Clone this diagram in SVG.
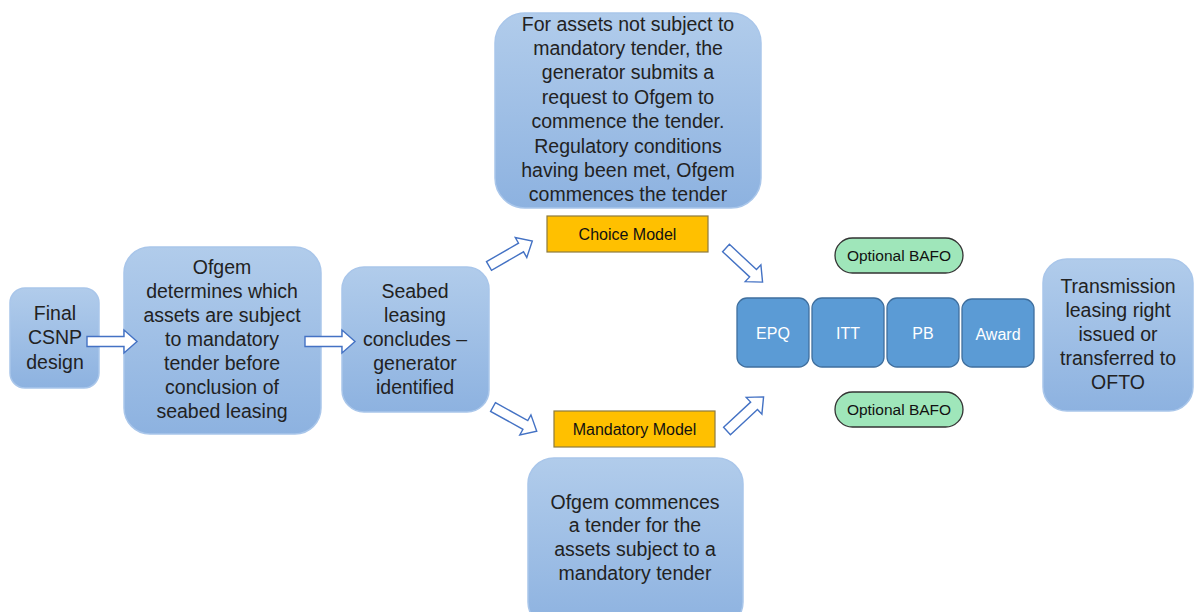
<svg xmlns="http://www.w3.org/2000/svg" width="1194" height="612" viewBox="0 0 1194 612">
<defs>
<linearGradient id="lb" x1="0" y1="0" x2="0" y2="1">
<stop offset="0" stop-color="#B1CCEB"/>
<stop offset="1" stop-color="#8DB2E0"/>
</linearGradient>
<path id="barrow" d="M0,-5 L37,-5 L37,-11.5 L50,0 L37,11.5 L37,5 L0,5 Z"/>
</defs>
<style>
.lb{fill:url(#lb);stroke:#A9C6EA;stroke-width:1.5}
.t{font-family:"Liberation Sans",Arial,sans-serif;font-size:19.5px;fill:#222;text-anchor:middle}
.ts{font-family:"Liberation Sans",Arial,sans-serif;font-size:16px;fill:#111;text-anchor:middle}
.tg{font-family:"Liberation Sans",Arial,sans-serif;font-size:15.5px;fill:#111;text-anchor:middle}
.tw{font-family:"Liberation Sans",Arial,sans-serif;font-size:16px;fill:#fff;text-anchor:middle}
.y{fill:#FFC000;stroke:#8C7A3E;stroke-width:1.2}
.g{fill:#9FE6BA;stroke:#333;stroke-width:1.3}
.b{fill:#5B9BD5;stroke:#3F6F9E;stroke-width:1.3}
.ar{fill:#fff;stroke:#4472C4;stroke-width:1.4}
</style>
<rect width="1194" height="612" fill="#fff"/>
<g id="final">
<rect class="lb" x="10" y="288" width="89" height="100" rx="15"/>
<text class="t"><tspan x="55" y="320">Final</tspan><tspan x="55" y="344">CSNP</tspan><tspan x="55" y="369">design</tspan></text>
</g>
<g id="ofgem">
<rect class="lb" x="124" y="247" width="197" height="187" rx="26"/>
<text class="t"><tspan x="222" y="274">Ofgem</tspan><tspan x="222" y="298">determines which</tspan><tspan x="222" y="322">assets are subject</tspan><tspan x="222" y="346">to mandatory</tspan><tspan x="222" y="370">tender before</tspan><tspan x="222" y="394">conclusion of</tspan><tspan x="222" y="418">seabed leasing</tspan></text>
</g>
<g id="seabed">
<rect class="lb" x="342" y="267" width="147" height="145" rx="22"/>
<text class="t"><tspan x="415" y="298">Seabed</tspan><tspan x="415" y="322">leasing</tspan><tspan x="415" y="346">concludes –</tspan><tspan x="415" y="370">generator</tspan><tspan x="415" y="394">identified</tspan></text>
</g>
<g id="choice-desc">
<rect class="lb" x="495" y="13" width="266" height="195" rx="30"/>
<text class="t"><tspan x="628" y="31">For assets not subject to</tspan><tspan x="628" y="55">mandatory tender, the</tspan><tspan x="628" y="79">generator submits a</tspan><tspan x="628" y="104">request to Ofgem to</tspan><tspan x="628" y="128">commence the tender.</tspan><tspan x="628" y="153">Regulatory conditions</tspan><tspan x="628" y="177">having been met, Ofgem</tspan><tspan x="628" y="201">commences the tender</tspan></text>
</g>
<g id="mandatory-desc">
<rect class="lb" x="528" y="458" width="215" height="170" rx="26"/>
<text class="t"><tspan x="635" y="509">Ofgem commences</tspan><tspan x="635" y="532">a tender for the</tspan><tspan x="635" y="556">assets subject to a</tspan><tspan x="635" y="580">mandatory tender</tspan></text>
</g>
<g id="choice-model">
<rect class="y" x="547" y="216" width="161" height="36"/>
<text class="ts" x="627.5" y="240">Choice Model</text>
</g>
<g id="mandatory-model">
<rect class="y" x="554" y="411" width="161" height="36"/>
<text class="ts" x="634.5" y="435">Mandatory Model</text>
</g>
<g id="bafo-top">
<rect class="g" x="835" y="238" width="128" height="35" rx="17.5"/>
<text class="tg" x="899" y="261">Optional BAFO</text>
</g>
<g id="bafo-bottom">
<rect class="g" x="835" y="392" width="128" height="35" rx="17.5"/>
<text class="tg" x="899" y="415">Optional BAFO</text>
</g>
<g id="epq">
<rect class="b" x="737" y="298" width="72" height="69" rx="10"/>
<text class="tw" x="773" y="339">EPQ</text>
</g>
<g id="itt">
<rect class="b" x="812" y="298" width="72" height="69" rx="10"/>
<text class="tw" x="848" y="339">ITT</text>
</g>
<g id="pb">
<rect class="b" x="887" y="298" width="72" height="69" rx="10"/>
<text class="tw" x="923" y="339">PB</text>
</g>
<g id="award">
<rect class="b" x="962" y="299" width="72" height="68" rx="10"/>
<text class="tw" x="998" y="340">Award</text>
</g>
<g id="transmission">
<rect class="lb" x="1043" y="259" width="150" height="152" rx="24"/>
<text class="t"><tspan x="1118" y="293">Transmission</tspan><tspan x="1118" y="317">leasing right</tspan><tspan x="1118" y="341">issued or</tspan><tspan x="1118" y="365">transferred to</tspan><tspan x="1118" y="389">OFTO</tspan></text>
</g>
<g id="connectors">
<use href="#barrow" class="ar" transform="translate(87,341.5)"/>
<use href="#barrow" class="ar" transform="translate(305,341.5)"/>
<use href="#barrow" class="ar" transform="translate(489,266) rotate(-30)"/>
<use href="#barrow" class="ar" transform="translate(726,248) rotate(43)"/>
<use href="#barrow" class="ar" transform="translate(493,407) rotate(29)"/>
<use href="#barrow" class="ar" transform="translate(727,431) rotate(-43)"/>
</g>
</svg>
